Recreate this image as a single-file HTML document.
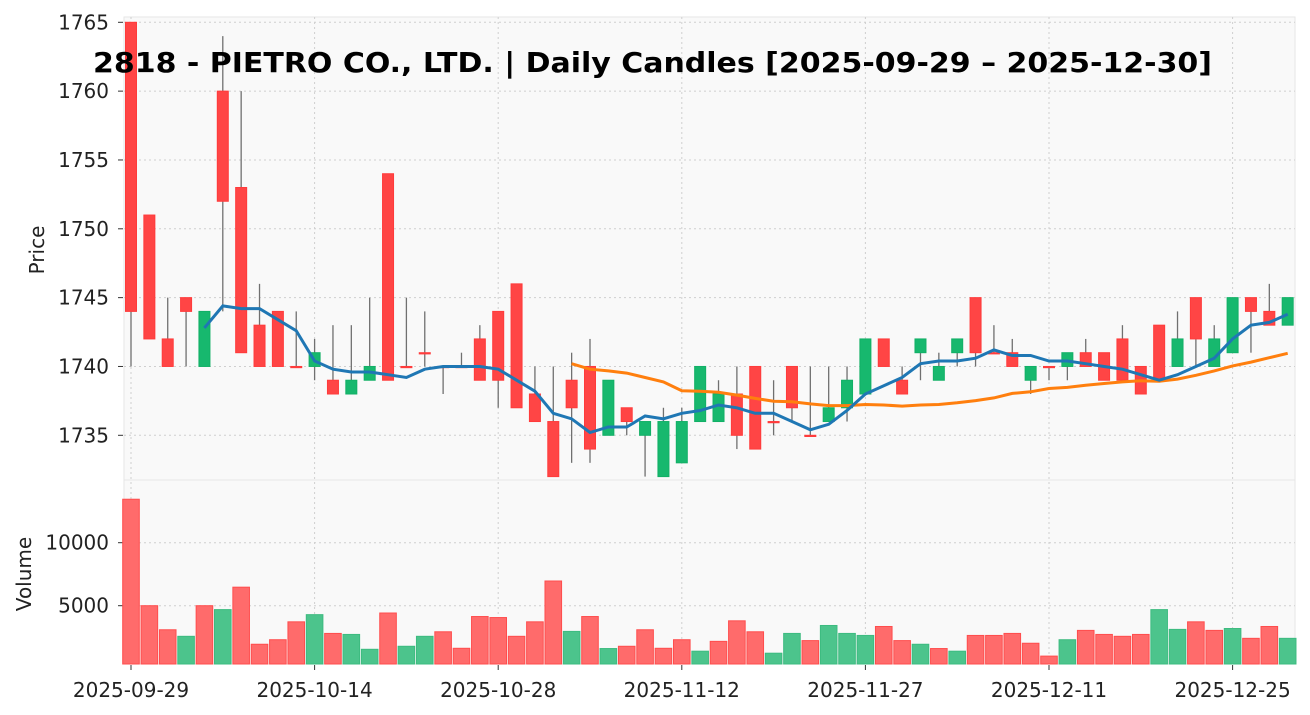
<!DOCTYPE html>
<html><head><meta charset="utf-8"><style>
html,body{margin:0;padding:0;background:#fff;}
svg{display:block;font-family:"DejaVu Sans","Liberation Sans",sans-serif;}
</style></head><body>
<svg id="chart" width="1310" height="715" viewBox="0 0 1310 715" xmlns="http://www.w3.org/2000/svg"></svg>
<script>
const dates = ["2025-09-29","2025-10-14","2025-10-28","2025-11-12","2025-11-27","2025-12-11","2025-12-25"];
const dateIdx = [0,10,20,30,40,50,60];
const opens  = [1765,1751,1742,1745,1740,1760,1753,1743,1744,1740,1740,1739,1738,1739,1754,1740,1741,1740,1740,1742,1744,1746,1738,1736,1739,1740,1735,1737,1735,1732,1733,1736,1736,1738,1740,1736,1740,1735,1736,1737,1738,1742,1739,1741,1739,1741,1745,1741,1741,1739,1740,1740,1741,1741,1742,1740,1743,1740,1745,1740,1741,1745,1744,1743];
const highs  = [1765,1751,1745,1745,1744,1764,1760,1746,1744,1744,1742,1743,1743,1745,1754,1745,1744,1740,1741,1743,1744,1746,1740,1740,1741,1742,1739,1737,1736,1737,1737,1740,1739,1740,1740,1739,1740,1740,1740,1740,1742,1742,1740,1742,1741,1742,1745,1743,1742,1740,1740,1741,1742,1741,1743,1740,1743,1744,1745,1743,1745,1745,1746,1745];
const lows   = [1740,1742,1740,1740,1740,1744,1741,1740,1740,1740,1739,1738,1738,1739,1739,1740,1740,1738,1740,1739,1737,1737,1736,1732,1733,1733,1735,1735,1732,1732,1733,1736,1736,1734,1734,1735,1736,1735,1736,1736,1738,1740,1738,1739,1739,1740,1740,1741,1740,1738,1739,1739,1740,1739,1739,1738,1739,1740,1740,1740,1741,1741,1743,1743];
const closes = [1744,1742,1740,1744,1744,1752,1741,1740,1740,1740,1741,1738,1739,1740,1739,1740,1741,1740,1740,1739,1739,1737,1736,1732,1737,1734,1739,1736,1736,1736,1736,1740,1738,1735,1734,1736,1737,1735,1737,1739,1742,1740,1738,1742,1740,1742,1741,1741,1740,1740,1740,1741,1740,1739,1739,1738,1739,1742,1742,1742,1745,1744,1743,1745];
const volumes = [13450,5000,3090,2570,5000,4690,6470,1940,2300,3720,4290,2800,2720,1540,4420,1780,2570,2930,1620,4140,4060,2570,3720,6960,2960,4140,1600,1780,3090,1620,2300,1390,2170,3800,2930,1230,2800,2230,3430,2800,2640,3350,2230,1940,1600,1390,2640,2640,2800,2020,1000,2300,3040,2720,2570,2720,4690,3120,3720,3040,3190,2410,3350,2410];
const priceTicks = [1735,1740,1745,1750,1755,1760,1765];
const volTicks = [5000,10000];

const NS="http://www.w3.org/2000/svg";
const svg=document.getElementById('chart');
function el(tag,attrs,parent){const e=document.createElementNS(NS,tag);for(const k in attrs)e.setAttribute(k,attrs[k]);(parent||svg).appendChild(e);return e;}
const L=124,R=1295,PT=17,PB=480,VT=480,VB=664;
const x=i=>131+i*18.36;
const yP=p=>22.3+(1765-p)*(413/30);
const yV=v=>605.7-(v-5000)*(63/5000);

const pp=el('rect',{x:L,y:PT,width:R-L,height:PB-PT,fill:'#f9f9f9',stroke:'#e6e6e6'});

const vp=el('rect',{x:L,y:VT,width:R-L,height:VB-VT,fill:'#f9f9f9',stroke:'#e6e6e6'});


priceTicks.forEach(p=>{
  const g=el('line',{x1:L,x2:R,y1:yP(p),y2:yP(p),stroke:'#cfcfcf','stroke-dasharray':'2,3'});
  
  const t=el('line',{x1:L-6,x2:L-1,y1:yP(p),y2:yP(p),stroke:'#333'});
  
  const tx=el('text',{x:L-15,y:yP(p)+7,'text-anchor':'end','font-size':20,fill:'#222'});tx.textContent=p;
  
});
volTicks.forEach(v=>{
  const g=el('line',{x1:L,x2:R,y1:yV(v),y2:yV(v),stroke:'#cfcfcf','stroke-dasharray':'2,3'});
  
  const t=el('line',{x1:L-6,x2:L-1,y1:yV(v),y2:yV(v),stroke:'#333'});
  
  const tx=el('text',{x:L-15,y:yV(v)+7,'text-anchor':'end','font-size':20,fill:'#222'});tx.textContent=v;
  
});
dateIdx.forEach((d,k)=>{
  const xx=x(d);
  const g=el('line',{x1:xx,x2:xx,y1:PT,y2:VB,stroke:'#cfcfcf','stroke-dasharray':'2,3'});
  
  const t=el('line',{x1:xx,x2:xx,y1:VB+1,y2:VB+6,stroke:'#333'});
  
  const tx=el('text',{x:xx,y:697,'text-anchor':'middle','font-size':20,fill:'#222'});tx.textContent=dates[k];
  
});

volumes.forEach((v,i)=>{
  const up = i===0 ? closes[0]>opens[0] : closes[i]>closes[i-1];
  const top=yV(v);
  const b=el('rect',{x:x(i)-8.3,y:top,width:16.6,height:VB-top,fill:up?'#4cc48c':'#ff6b6b',stroke:up?'#3dbb80':'#ff4d4d','stroke-width':1});
  
});

opens.forEach((o,i)=>{
  const c=closes[i],up=c>o;
  const w=el('line',{x1:x(i),x2:x(i),y1:yP(highs[i]),y2:yP(lows[i]),stroke:'#707070','stroke-width':1.3});
  
  const t=yP(Math.max(o,c)),bt=yP(Math.min(o,c));
  const b=el('rect',{x:x(i)-5.5,y:t,width:11,height:Math.max(bt-t,1.2),fill:up?'#17b86e':'#ff4545',stroke:up?'#12b066':'#ff3b3b','stroke-width':1});
  
});

function ma(n){const pts=[];for(let i=n-1;i<closes.length;i++){let s=0;for(let j=i-n+1;j<=i;j++)s+=closes[j];pts.push(x(i).toFixed(1)+','+yP(s/n).toFixed(1));}return pts.join(' ');}
const m25=el('polyline',{points:ma(25),fill:'none',stroke:'#ff7f0e','stroke-width':3});

const m5=el('polyline',{points:ma(5),fill:'none',stroke:'#1f77b4','stroke-width':3});


const yl=el('text',{x:44,y:250,'text-anchor':'middle','font-size':20,fill:'#222',transform:'rotate(-90 44 250)'});yl.textContent='Price';

const vl=el('text',{x:31,y:574,'text-anchor':'middle','font-size':20,fill:'#222',transform:'rotate(-90 31 574)'});vl.textContent='Volume';

const ti=el('text',{x:93,y:72,'font-size':28,'font-weight':'bold',fill:'#000',textLength:1119,lengthAdjust:'spacingAndGlyphs'});ti.textContent='2818 - PIETRO CO., LTD. | Daily Candles [2025-09-29 – 2025-12-30]';

</script>
</body></html>
